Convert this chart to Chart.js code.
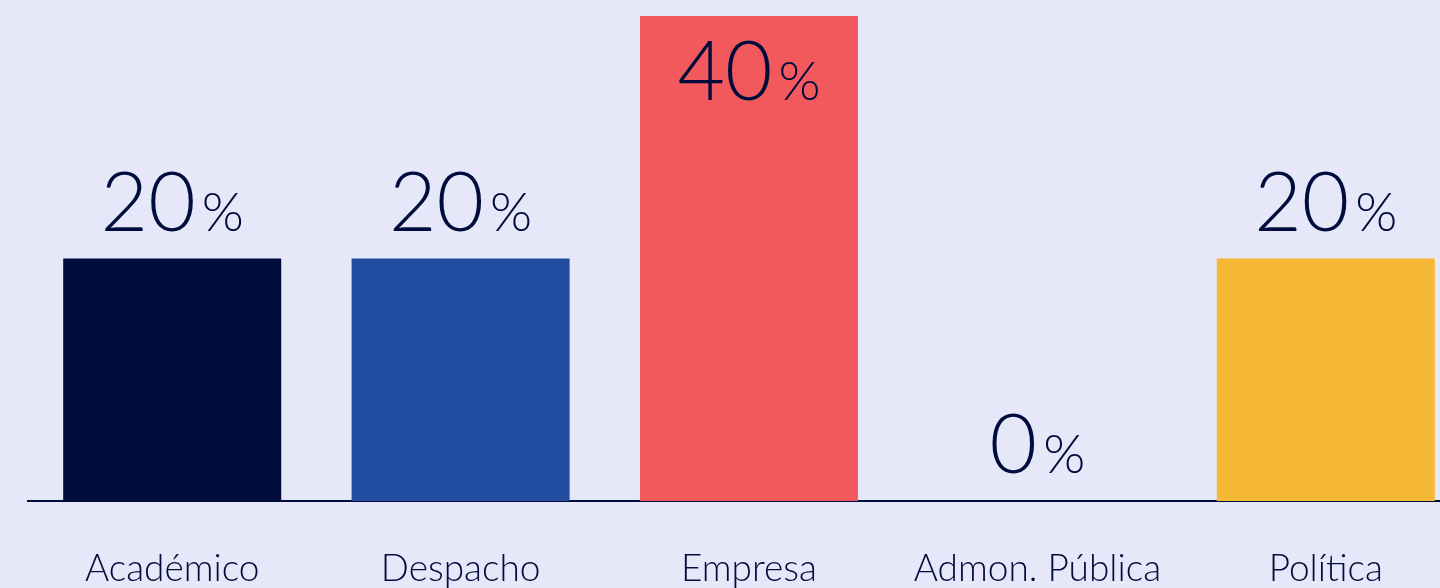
<!DOCTYPE html>
<html>
<head>
<meta charset="utf-8">
<script src="https://cdn.jsdelivr.net/npm/chart.js@4"></script>
<style>
  html, body { margin: 0; padding: 0; background: #e6e7f9; overflow: hidden; }
  #wrap { width: 1470px; height: 588px; }
</style>
</head>
<body>
<div id="wrap"><canvas id="barChart" width="1470" height="588"></canvas></div>
<script>
// ===== DATA =====
const categories = ["Académico", "Despacho", "Empresa", "Admon. Pública", "Política"];
const shares = [20, 20, 40, 0, 20];
const barColors = ["#000c3b", "#224c9f", "#f2595c", "#c9c9e0", "#f7b836"];

const ink = "#000c3b";
const fontFamily = "Lato, 'Open Sans', 'DejaVu Sans', sans-serif";

// value labels: big number + small percent sign
const valueLabels = {
  id: "valueLabels",
  afterDatasetsDraw(chart) {
    const ctx = chart.ctx;
    const meta = chart.getDatasetMeta(0);
    ctx.save();
    ctx.fillStyle = ink;
    ctx.textBaseline = "alphabetic";
    meta.data.forEach((bar, i) => {
      const num = String(shares[i]);
      ctx.font = "300 82px " + fontFamily;
      const wNum = ctx.measureText(num).width;
      ctx.font = "300 54px " + fontFamily;
      const wPct = ctx.measureText("%").width;
      const gap = 6;
      const total = wNum + gap + wPct;
      // keep label inside the canvas when bar reaches the top
      const baseY = Math.max(bar.y - 28, 100);
      let x = bar.x - total / 2;
      ctx.textAlign = "left";
      ctx.font = "300 82px " + fontFamily;
      ctx.fillText(num, x, baseY);
      ctx.font = "300 54px " + fontFamily;
      ctx.fillText("%", x + wNum + gap, baseY);
    });
    ctx.restore();
  }
};

const ctx = document.getElementById("barChart").getContext("2d");

new Chart(ctx, {
  type: "bar",
  data: {
    labels: categories,
    datasets: [{
      data: shares,
      backgroundColor: barColors,
      borderWidth: 0,
      barPercentage: 0.756,
      categoryPercentage: 1
    }]
  },
  options: {
    responsive: false,
    animation: false,
    layout: { padding: { top: 16, left: 28, right: 0, bottom: 0 } },
    plugins: {
      legend: { display: false },
      tooltip: { enabled: false }
    },
    scales: {
      x: {
        grid: { display: false, drawTicks: false },
        border: { display: true, color: ink, width: 2 },
        ticks: {
          color: ink,
          padding: 46,
          font: { size: 37, family: fontFamily, weight: 300 }
        },
        afterFit: scale => { scale.height = 87; }
      },
      y: {
        display: false,
        min: 0,
        max: 40
      }
    }
  },
  plugins: [valueLabels]
});
</script>
</body>
</html>
